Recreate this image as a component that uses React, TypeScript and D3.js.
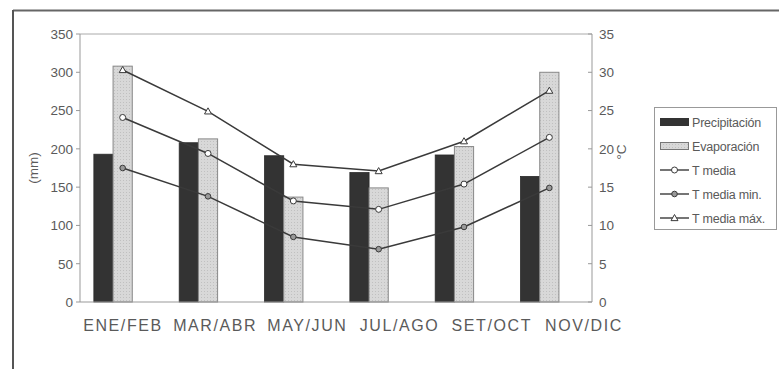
import React from "react";
import * as d3 from "d3";

const categories = ["ENE/FEB", "MAR/ABR", "MAY/JUN", "JUL/AGO", "SET/OCT", "NOV/DIC"];
const precipitacion = [193, 208, 191, 169, 192, 164];
const evaporacion = [308, 213, 137, 149, 203, 300];
const tMedia = [24.1, 19.4, 13.2, 12.1, 15.4, 21.5];
const tMin = [17.5, 13.8, 8.5, 6.9, 9.8, 14.9];
const tMax = [30.3, 24.9, 18.0, 17.1, 21.0, 27.6];
const mmTicks = [0, 50, 100, 150, 200, 250, 300, 350];
const cTicks = [0, 5, 10, 15, 20, 25, 30, 35];

const W = 779;
const H = 369;
const plot = { left: 80, right: 592, top: 34, bottom: 302 };
const font = "'Liberation Sans', Arial, sans-serif";
const textColor = "#5a5a5a";
const lineColor = "#3a3a3a";

export default function App() {
  const x = d3.scaleBand<string>().domain(categories).range([plot.left, plot.right]);
  const xLabel = d3.scalePoint<string>().domain(categories).range([123, 584]);
  const yMm = d3.scaleLinear().domain([0, 350]).range([plot.bottom, plot.top]);
  const yC = d3.scaleLinear().domain([0, 35]).range([plot.bottom, plot.top]);
  const bw = x.bandwidth() * 0.225;
  const cx = (c: string) => (x(c) as number) + x.bandwidth() / 2;

  const line = d3
    .line<number>()
    .x((_, i) => cx(categories[i]))
    .y((d) => yC(d));

  const series = [
    { name: "T media", values: tMedia, marker: "circle" },
    { name: "T media min.", values: tMin, marker: "dot" },
    { name: "T media máx.", values: tMax, marker: "triangle" },
  ];

  const marker = (kind: string, px: number, py: number, key: string | number) => {
    if (kind === "circle")
      return <circle key={key} cx={px} cy={py} r={3} fill="#fff" stroke={lineColor} strokeWidth={1} />;
    if (kind === "dot")
      return <circle key={key} cx={px} cy={py} r={2.8} fill="#999" stroke={lineColor} strokeWidth={1} />;
    const s = 3.5;
    return (
      <path
        key={key}
        d={`M${px},${py - s}L${px + s},${py + s * 0.75}L${px - s},${py + s * 0.75}Z`}
        fill="#fff"
        stroke={lineColor}
        strokeWidth={1}
      />
    );
  };

  const legendItems = [
    { name: "Precipitación", kind: "bar1" },
    { name: "Evaporación", kind: "bar2" },
    { name: "T media", kind: "circle" },
    { name: "T media min.", kind: "dot" },
    { name: "T media máx.", kind: "triangle" },
  ];

  return (
    <svg width={W} height={H} style={{ display: "block", position: "absolute", left: 0, top: 0, background: "#fff" }}>
      <defs>
        <pattern id="evapFill" width="3" height="3" patternUnits="userSpaceOnUse">
          <rect width="3" height="3" fill="#d8d8d8" />
          <rect width="1" height="1" fill="#c0c0c0" />
        </pattern>
      </defs>
      <rect width={W} height={H} fill="#fff" />
      {/* outer frame */}
      <line x1={13} y1={10.5} x2={W} y2={10.5} stroke="#666" strokeWidth={2} />
      <line x1={13} y1={10} x2={13} y2={H} stroke="#555" strokeWidth={2} />

      {/* plot border top */}
      <line x1={plot.left} y1={plot.top} x2={plot.right} y2={plot.top} stroke="#aaa" strokeWidth={1} />

      {/* bars */}
      {categories.map((c, i) => (
        <g key={c}>
          <rect
            x={cx(c) - 1.5 * bw}
            y={yMm(precipitacion[i])}
            width={bw}
            height={plot.bottom - yMm(precipitacion[i])}
            fill="#333"
            stroke="#2a2a2a"
            strokeWidth={0.8}
          />
          <rect
            x={cx(c) - 0.5 * bw}
            y={yMm(evaporacion[i])}
            width={bw}
            height={plot.bottom - yMm(evaporacion[i])}
            fill="url(#evapFill)"
            stroke="#888"
            strokeWidth={1}
          />
        </g>
      ))}

      {/* axes */}
      <line x1={plot.left} y1={plot.top} x2={plot.left} y2={plot.bottom} stroke="#999" />
      <line x1={plot.right} y1={plot.top} x2={plot.right} y2={plot.bottom} stroke="#999" />
      <line x1={plot.left} y1={plot.bottom} x2={plot.right} y2={plot.bottom} stroke="#999" />

      {mmTicks.map((t) => (
        <g key={`l${t}`}>
          <line x1={plot.left - 4} x2={plot.left} y1={yMm(t)} y2={yMm(t)} stroke="#999" />
          <text x={plot.left - 7} y={yMm(t)} dy="0.36em" textAnchor="end" fontSize={13.5} fontFamily={font} fill={textColor}>
            {t}
          </text>
        </g>
      ))}
      {cTicks.map((t) => (
        <g key={`r${t}`}>
          <line x1={plot.right - 4} x2={plot.right} y1={yC(t)} y2={yC(t)} stroke="#999" />
          <text x={plot.right + 7} y={yC(t)} dy="0.36em" textAnchor="start" fontSize={13.5} fontFamily={font} fill={textColor}>
            {t}
          </text>
        </g>
      ))}

      <text
        transform={`translate(38,168) rotate(-90)`}
        textAnchor="middle"
        fontSize={13.5}
        fontFamily={font}
        fill={textColor}
      >
        (mm)
      </text>
      <text
        transform={`translate(626,152) rotate(-90)`}
        textAnchor="middle"
        fontSize={13.5}
        fontFamily={font}
        fill={textColor}
      >
        °C
      </text>

      {categories.map((c) => (
        <text
          key={`x${c}`}
          x={xLabel(c)}
          y={331}
          textAnchor="middle"
          fontSize={16}
          letterSpacing={1.6}
          fontFamily={font}
          fill={textColor}
        >
          {c}
        </text>
      ))}

      {/* temperature lines */}
      {series.map((s) => (
        <g key={s.name}>
          <path d={line(s.values) as string} fill="none" stroke={lineColor} strokeWidth={1.5} />
          {s.values.map((v, i) => marker(s.marker, cx(categories[i]), yC(v), i))}
        </g>
      ))}

      {/* legend */}
      <rect x={654.5} y={107.5} width={122} height={122} fill="#fff" stroke="#999" />
      {legendItems.map((it, i) => {
        const ly = 122 + i * 24;
        let sym;
        if (it.kind === "bar1") sym = <rect x={660} y={ly - 4} width={29} height={8} fill="#333" />;
        else if (it.kind === "bar2")
          sym = <rect x={660.5} y={ly - 3.5} width={28} height={7} fill="url(#evapFill)" stroke="#777" />;
        else
          sym = (
            <g>
              <line x1={660} x2={689} y1={ly} y2={ly} stroke={lineColor} strokeWidth={1.4} />
              {marker(it.kind, 674.5, ly, "m")}
            </g>
          );
        return (
          <g key={it.name}>
            {sym}
            <text x={692} y={ly} dy="0.36em" fontSize={12.5} fontFamily={font} fill={textColor} letterSpacing={-0.2}>
              {it.name}
            </text>
          </g>
        );
      })}
    </svg>
  );
}
